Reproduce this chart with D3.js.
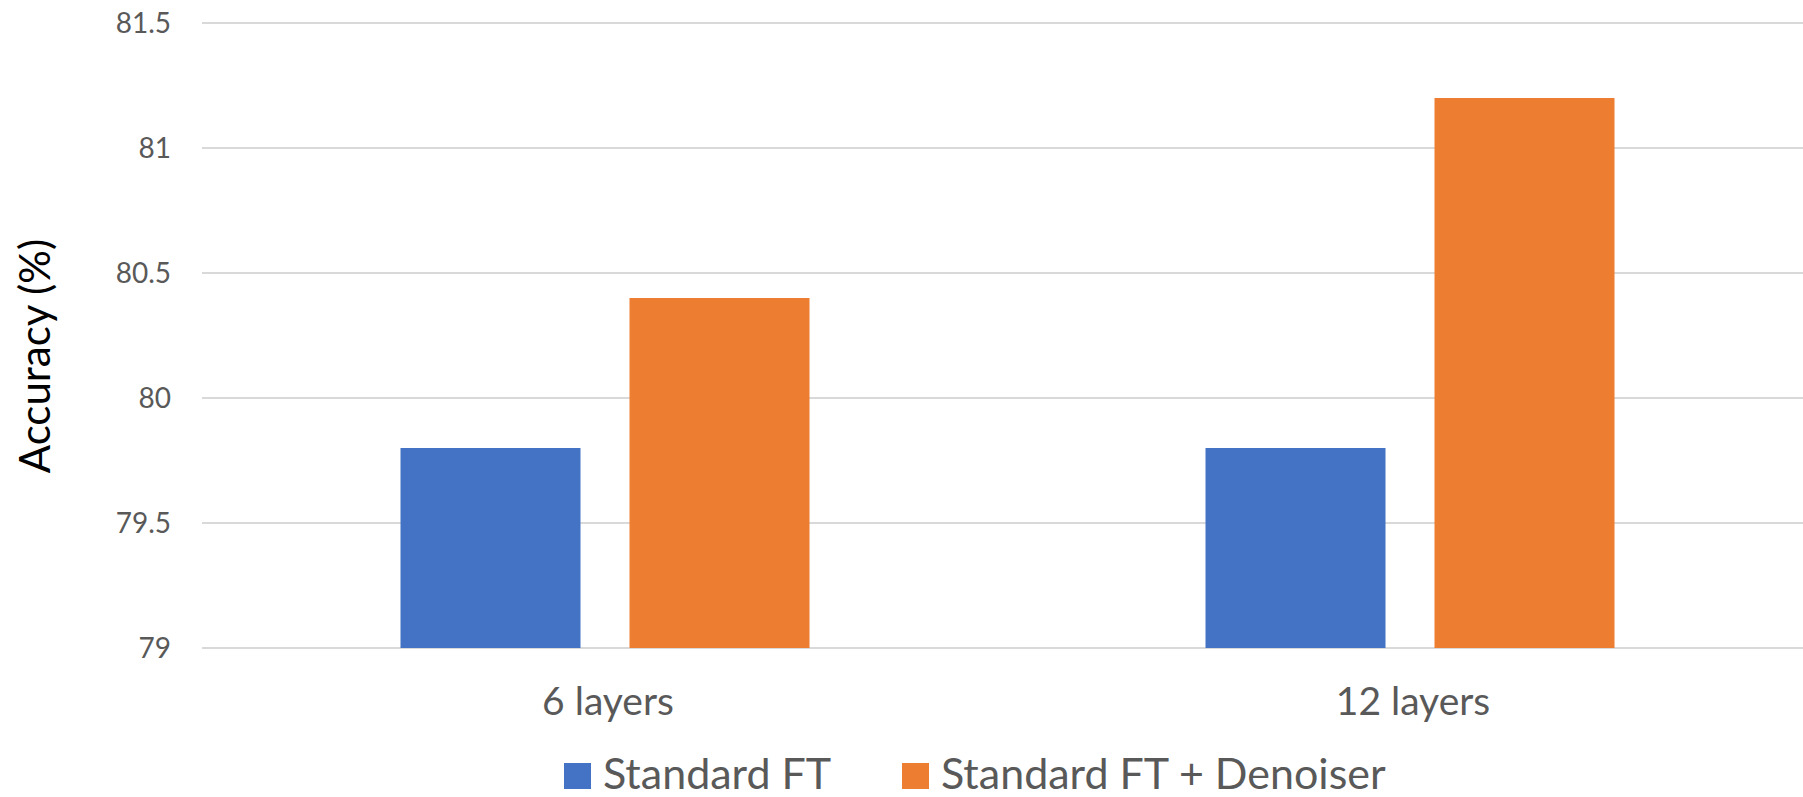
<!DOCTYPE html>
<html>
<head>
<meta charset="utf-8">
<script src="https://cdn.jsdelivr.net/npm/d3@7"></script>
<style>
  html, body { margin: 0; padding: 0; background: #fff; }
  svg { display: block; }
</style>
</head>
<body>
<svg id="chart" width="1803" height="797"></svg>
<script>
const categories = ["6 layers", "12 layers"];
const seriesNames = ["Standard FT", "Standard FT + Denoiser"];
const standardFT = [79.8, 79.8];
const standardFTDenoiser = [80.4, 81.2];
const yTicks = [79, 79.5, 80, 80.5, 81, 81.5];
const yTickLabels = ["79", "79.5", "80", "80.5", "81", "81.5"];
const yTitle = "Accuracy (%)";
const colors = ["#4472C4", "#ED7D31"];

const seriesValues = [standardFT, standardFTDenoiser];
const data = categories.map((c, i) => ({
  cat: c,
  vals: seriesNames.map((s, j) => ({ s, v: seriesValues[j][i], j }))
}));

const svg = d3.select("#chart");
const font = "Lato, 'Open Sans', sans-serif";

const y = d3.scaleLinear().domain([79, 81.5]).range([648, 23]);
const x0 = d3.scaleBand().domain(categories).range([202.5, 1812.5]).padding(0);
const x1 = d3.scaleBand().domain(seriesNames).range([0, x0.bandwidth()])
  .paddingInner(49 / 229).paddingOuter(198 / 229);

// gridlines
svg.append("g").selectAll("line").data(yTicks).join("line")
  .attr("x1", 202).attr("x2", 1803)
  .attr("y1", d => y(d)).attr("y2", d => y(d))
  .attr("stroke", "#d9d9d9").attr("stroke-width", 2);

// y axis labels
const yAxis = d3.axisLeft(y).tickValues(yTicks)
  .tickFormat((d, i) => yTickLabels[i]).tickSize(0).tickPadding(0);
const gy = svg.append("g").attr("transform", "translate(171,0)").call(yAxis);
gy.select(".domain").remove();
gy.selectAll("text")
  .attr("font-family", font).attr("font-size", 28).attr("fill", "#595959")
  .attr("dy", null).attr("dominant-baseline", null)
  .attr("y", 9);

// bars
const groups = svg.append("g").selectAll("g").data(data).join("g")
  .attr("transform", d => `translate(${x0(d.cat)},0)`);
groups.selectAll("rect").data(d => d.vals).join("rect")
  .attr("x", d => x1(d.s))
  .attr("width", x1.bandwidth())
  .attr("y", d => y(d.v))
  .attr("height", d => y(79) - y(d.v))
  .attr("fill", d => colors[d.j]);

// x axis labels
const xAxis = d3.axisBottom(x0).tickSize(0).tickPadding(0);
const gx = svg.append("g").attr("transform", "translate(0,0)").call(xAxis);
gx.select(".domain").remove();
gx.selectAll("text")
  .attr("font-family", font).attr("font-size", 39).attr("fill", "#595959")
  .attr("dy", null).attr("y", 715)
  .attr("dx", 3);

// y title
svg.append("text")
  .attr("transform", "translate(50,356) rotate(-90)")
  .attr("text-anchor", "middle")
  .attr("font-family", font).attr("font-size", 42).attr("fill", "#000")
  .text(yTitle);

// legend
const legendX = [564, 902];
const lg = svg.append("g").selectAll("g").data(seriesNames).join("g")
  .attr("transform", (d, i) => `translate(${legendX[i]},0)`);
lg.append("rect").attr("x", 0).attr("y", 763).attr("width", 27).attr("height", 26)
  .attr("fill", (d, i) => colors[i]);
lg.append("text").attr("x", 39).attr("y", 789)
  .attr("font-family", font).attr("font-size", 43).attr("fill", "#595959")
  .text(d => d);
</script>
</body>
</html>
